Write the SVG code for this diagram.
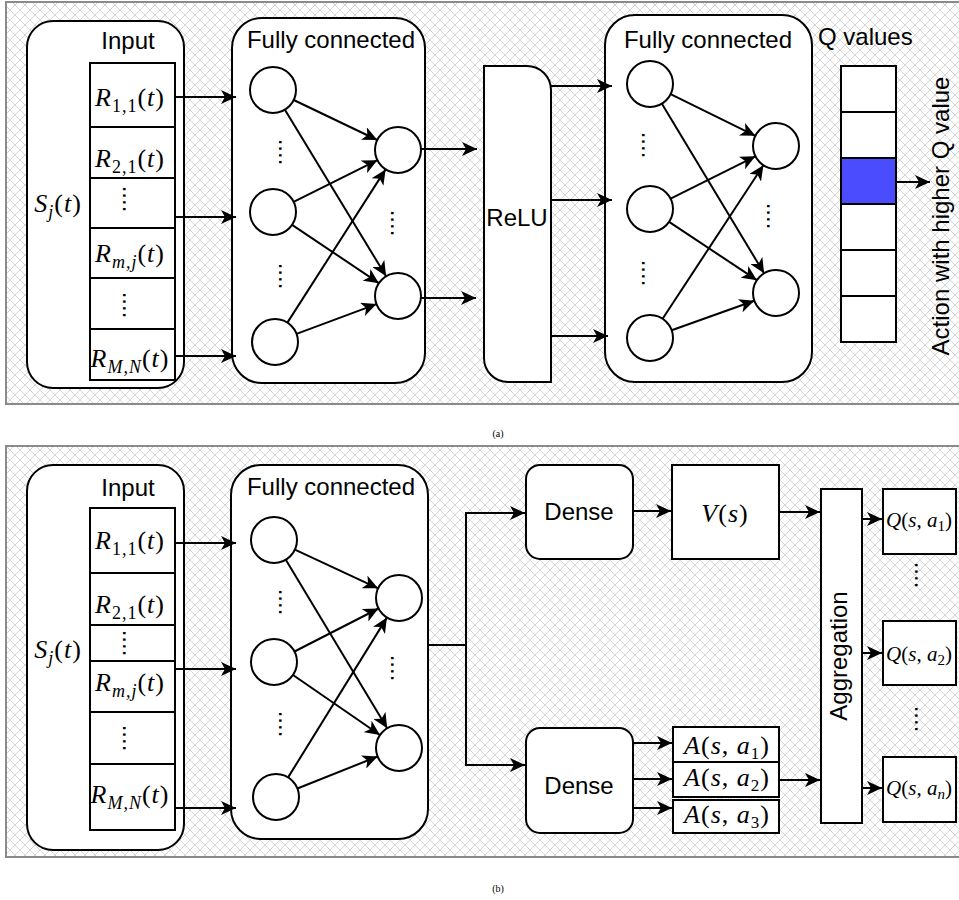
<svg xmlns="http://www.w3.org/2000/svg" width="959" height="900" viewBox="0 0 959 900">
<defs>
<pattern id="hatch" patternUnits="userSpaceOnUse" width="10" height="10">
<rect width="10" height="10" fill="#ffffff"/>
<path d="M0,0 L10,10 M10,0 L0,10" stroke="#d6d6d6" stroke-width="1"/>
</pattern>
<marker id="arr" markerUnits="userSpaceOnUse" markerWidth="16" markerHeight="14" refX="15" refY="7" orient="auto">
<path d="M0,0 L15,7 L0,14 L4,7 Z" fill="#000"/>
</marker>
</defs>
<style>
.panel{fill:url(#hatch);stroke:#8a8a8a;stroke-width:2}
.box{fill:#fff;stroke:#000;stroke-width:2}
.e{fill:none;stroke:#000;stroke-width:2;marker-end:url(#arr)}
.ln{fill:none;stroke:#000;stroke-width:2}
.t{font-family:"Liberation Sans",Arial,sans-serif;font-size:24px;fill:#000}
.m{font-family:"Liberation Serif","Times New Roman",serif;font-size:26px;fill:#000;letter-spacing:1px}
.q{font-family:"Liberation Serif","Times New Roman",serif;font-size:21px;fill:#000}
.i{font-style:italic}
.cap{font-family:"Liberation Serif","Times New Roman",serif;font-size:10px;fill:#000}
.dots{font-family:"Liberation Sans",Arial,sans-serif;font-size:24px;fill:#000}
</style>

<rect class="panel" x="6" y="2" width="960" height="402"/>
<rect class="panel" x="6" y="446" width="960" height="411"/>
<text class="cap" x="498" y="437" text-anchor="middle">(a)</text>
<text class="cap" x="498" y="892" text-anchor="middle">(b)</text>

<!-- ============ Panel (a) ============ -->
<g id="a-input">
<rect class="box" x="27" y="21" width="157" height="367" rx="26"/>
<text class="t" x="128" y="49" text-anchor="middle">Input</text>
<text class="m" x="58" y="212" text-anchor="middle"><tspan class="i">S</tspan><tspan class="i" font-size="18" dy="6">j</tspan><tspan dy="-6">(</tspan><tspan class="i">t</tspan>)</text>
<rect class="box" x="90" y="63" width="85" height="64"/>
<rect class="box" x="90" y="127" width="85" height="51"/>
<rect class="box" x="90" y="178" width="85" height="50"/>
<rect class="box" x="90" y="228" width="85" height="50"/>
<rect class="box" x="90" y="278" width="85" height="51"/>
<rect class="box" x="90" y="329" width="85" height="51"/>
<text class="m" x="130" y="106" text-anchor="middle"><tspan class="i">R</tspan><tspan font-size="18" dy="6">1,1</tspan><tspan dy="-6">(</tspan><tspan class="i">t</tspan>)</text>
<text class="m" x="130" y="167" text-anchor="middle"><tspan class="i">R</tspan><tspan font-size="18" dy="6">2,1</tspan><tspan dy="-6">(</tspan><tspan class="i">t</tspan>)</text>
<text class="dots" transform="translate(123,199) rotate(90)" text-anchor="middle">....</text>
<text class="m" x="130" y="262" text-anchor="middle"><tspan class="i">R</tspan><tspan class="i" font-size="18" dy="6">m,j</tspan><tspan dy="-6">(</tspan><tspan class="i">t</tspan>)</text>
<text class="dots" transform="translate(123,305) rotate(90)" text-anchor="middle">....</text>
<text class="m" x="130" y="367" text-anchor="middle"><tspan class="i">R</tspan><tspan class="i" font-size="18" dy="6">M,N</tspan><tspan dy="-6">(</tspan><tspan class="i">t</tspan>)</text>
</g>

<g id="a-fc1">
<rect class="box" x="232" y="18" width="193" height="365" rx="30"/>
<text class="t" x="331" y="48" text-anchor="middle">Fully connected</text>
<circle class="box" cx="273" cy="90" r="23"/>
<circle class="box" cx="273" cy="212" r="23"/>
<circle class="box" cx="275" cy="342" r="23"/>
<circle class="box" cx="398" cy="150" r="23"/>
<circle class="box" cx="398" cy="296" r="23"/>
<text class="dots" transform="translate(279,152) rotate(90)" text-anchor="middle">....</text>
<text class="dots" transform="translate(279,276) rotate(90)" text-anchor="middle">....</text>
<text class="dots" transform="translate(391,223) rotate(90)" text-anchor="middle">....</text>
</g>

<g id="a-relu">
<path class="box" d="M484,66 H527 A24,24 0 0 1 551,90 V382 H508 A24,24 0 0 1 484,358 Z"/>
<text class="t" x="517" y="226" text-anchor="middle">ReLU</text>
</g>

<g id="a-fc2">
<rect class="box" x="605" y="15" width="207" height="367" rx="30"/>
<text class="t" x="708" y="48" text-anchor="middle">Fully connected</text>
<circle class="box" cx="650" cy="84" r="23"/>
<circle class="box" cx="650" cy="209" r="23"/>
<circle class="box" cx="650" cy="338" r="23"/>
<circle class="box" cx="776" cy="146" r="23"/>
<circle class="box" cx="776" cy="293" r="23"/>
<text class="dots" transform="translate(642,145) rotate(90)" text-anchor="middle">....</text>
<text class="dots" transform="translate(642,273) rotate(90)" text-anchor="middle">....</text>
<text class="dots" transform="translate(767,216) rotate(90)" text-anchor="middle">....</text>
</g>

<g id="a-qvalues">
<text class="t" x="818" y="45">Q values</text>
<rect class="box" x="841" y="66" width="55" height="46"/>
<rect class="box" x="841" y="112" width="55" height="46"/>
<rect x="841" y="158" width="55" height="46" fill="#4c4cff" stroke="#000" stroke-width="2"/>
<rect class="box" x="841" y="204" width="55" height="46"/>
<rect class="box" x="841" y="250" width="55" height="46"/>
<rect class="box" x="841" y="296" width="55" height="46"/>
</g>

<g id="a-action">
<text class="t" transform="translate(949,216) rotate(-90)" text-anchor="middle">Action with higher Q value</text>
</g>

<g id="a-edges">
<line class="e" x1="175" y1="97" x2="236" y2="97"/>
<line class="e" x1="175" y1="217" x2="236" y2="217"/>
<line class="e" x1="175" y1="356" x2="236" y2="356"/>
<line class="e" x1="293.7" y1="100" x2="377.3" y2="140"/>
<line class="e" x1="284.9" y1="109.7" x2="386.1" y2="276.3"/>
<line class="e" x1="293.6" y1="201.8" x2="377.4" y2="160.2"/>
<line class="e" x1="292.1" y1="224.8" x2="378.9" y2="283.2"/>
<line class="e" x1="287.4" y1="322.6" x2="385.6" y2="169.4"/>
<line class="e" x1="296.5" y1="333.9" x2="376.5" y2="304.1"/>
<line class="e" x1="421" y1="149" x2="477" y2="149"/>
<line class="e" x1="421" y1="298" x2="476" y2="298"/>
<line class="e" x1="551" y1="86" x2="612" y2="86"/>
<line class="e" x1="551" y1="200" x2="612" y2="200"/>
<line class="e" x1="551" y1="336" x2="608" y2="336"/>
<line class="e" x1="670.6" y1="94.2" x2="755.4" y2="135.8"/>
<line class="e" x1="661.9" y1="103.7" x2="764.1" y2="273.3"/>
<line class="e" x1="670.6" y1="198.7" x2="755.4" y2="156.3"/>
<line class="e" x1="669.1" y1="221.8" x2="756.9" y2="280.2"/>
<line class="e" x1="662.6" y1="318.8" x2="763.4" y2="165.2"/>
<line class="e" x1="671.7" y1="330.3" x2="754.3" y2="300.7"/>
<line class="e" x1="896" y1="182" x2="930" y2="182"/>
</g>

<!-- ============ Panel (b) ============ -->
<g id="b-input">
<rect class="box" x="27" y="465" width="157" height="385" rx="26"/>
<text class="t" x="128" y="496" text-anchor="middle">Input</text>
<text class="m" x="58" y="658" text-anchor="middle"><tspan class="i">S</tspan><tspan class="i" font-size="18" dy="6">j</tspan><tspan dy="-6">(</tspan><tspan class="i">t</tspan>)</text>
<rect class="box" x="90" y="508" width="85" height="65"/>
<rect class="box" x="90" y="573" width="85" height="52"/>
<rect class="box" x="90" y="625" width="85" height="36"/>
<rect class="box" x="90" y="661" width="85" height="51"/>
<rect class="box" x="90" y="712" width="85" height="52"/>
<rect class="box" x="90" y="764" width="85" height="66"/>
<text class="m" x="130" y="549" text-anchor="middle"><tspan class="i">R</tspan><tspan font-size="18" dy="6">1,1</tspan><tspan dy="-6">(</tspan><tspan class="i">t</tspan>)</text>
<text class="m" x="130" y="613" text-anchor="middle"><tspan class="i">R</tspan><tspan font-size="18" dy="6">2,1</tspan><tspan dy="-6">(</tspan><tspan class="i">t</tspan>)</text>
<text class="dots" transform="translate(123,643) rotate(90)" text-anchor="middle">....</text>
<text class="m" x="130" y="691" text-anchor="middle"><tspan class="i">R</tspan><tspan class="i" font-size="18" dy="6">m,j</tspan><tspan dy="-6">(</tspan><tspan class="i">t</tspan>)</text>
<text class="dots" transform="translate(123,738) rotate(90)" text-anchor="middle">....</text>
<text class="m" x="130" y="803" text-anchor="middle"><tspan class="i">R</tspan><tspan class="i" font-size="18" dy="6">M,N</tspan><tspan dy="-6">(</tspan><tspan class="i">t</tspan>)</text>
</g>

<g id="b-fc">
<rect class="box" x="231" y="465" width="197" height="374" rx="30"/>
<text class="t" x="331" y="495" text-anchor="middle">Fully connected</text>
<circle class="box" cx="274" cy="540" r="23"/>
<circle class="box" cx="274" cy="662" r="23"/>
<circle class="box" cx="276" cy="797" r="23"/>
<circle class="box" cx="399" cy="598" r="23"/>
<circle class="box" cx="399" cy="748" r="23"/>
<text class="dots" transform="translate(279,602) rotate(90)" text-anchor="middle">....</text>
<text class="dots" transform="translate(279,724) rotate(90)" text-anchor="middle">....</text>
<text class="dots" transform="translate(391,668) rotate(90)" text-anchor="middle">....</text>
</g>

<g id="b-dense1">
<rect class="box" x="526" y="465" width="107" height="94" rx="14"/>
<text class="t" x="579" y="520" text-anchor="middle">Dense</text>
</g>
<g id="b-vs">
<rect class="box" x="672" y="465" width="107" height="94"/>
<text class="m" x="725" y="522" text-anchor="middle" font-size="32"><tspan class="i">V</tspan>(<tspan class="i">s</tspan>)</text>
</g>
<g id="b-dense2">
<rect class="box" x="526" y="728" width="107" height="105" rx="14"/>
<text class="t" x="579" y="794" text-anchor="middle">Dense</text>
</g>
<g id="b-advantage">
<rect class="box" x="673" y="727" width="106" height="35"/>
<rect class="box" x="673" y="762" width="106" height="35"/>
<rect class="box" x="673" y="800" width="106" height="33"/>
<text class="m" x="727" y="754" text-anchor="middle" font-size="24"><tspan class="i">A</tspan>(<tspan class="i">s</tspan>, <tspan class="i">a</tspan><tspan font-size="17" dy="5">1</tspan><tspan dy="-5">)</tspan></text>
<text class="m" x="727" y="786" text-anchor="middle" font-size="24"><tspan class="i">A</tspan>(<tspan class="i">s</tspan>, <tspan class="i">a</tspan><tspan font-size="17" dy="5">2</tspan><tspan dy="-5">)</tspan></text>
<text class="m" x="727" y="823" text-anchor="middle" font-size="24"><tspan class="i">A</tspan>(<tspan class="i">s</tspan>, <tspan class="i">a</tspan><tspan font-size="17" dy="5">3</tspan><tspan dy="-5">)</tspan></text>
</g>
<g id="b-aggregation">
<rect class="box" x="821" y="489" width="41" height="334"/>
<text class="t" transform="translate(847,656) rotate(-90)" text-anchor="middle">Aggregation</text>
</g>
<g id="b-q">
<rect class="box" x="883" y="489" width="73" height="65"/>
<rect class="box" x="883" y="621" width="73" height="64"/>
<rect class="box" x="883" y="757" width="73" height="65"/>
<text class="q" x="919" y="527" text-anchor="middle"><tspan class="i">Q</tspan>(<tspan class="i">s</tspan>, <tspan class="i">a</tspan><tspan font-size="15" dy="4">1</tspan><tspan dy="-4">)</tspan></text>
<text class="q" x="919" y="661" text-anchor="middle"><tspan class="i">Q</tspan>(<tspan class="i">s</tspan>, <tspan class="i">a</tspan><tspan font-size="15" dy="4">2</tspan><tspan dy="-4">)</tspan></text>
<text class="q" x="919" y="795" text-anchor="middle"><tspan class="i">Q</tspan>(<tspan class="i">s</tspan>, <tspan class="i">a</tspan><tspan class="i" font-size="15" dy="4">n</tspan><tspan dy="-4">)</tspan></text>
<text class="dots" transform="translate(915,575) rotate(90)" text-anchor="middle">....</text>
<text class="dots" transform="translate(915,719) rotate(90)" text-anchor="middle">....</text>
</g>

<g id="b-edges">
<line class="e" x1="175" y1="543" x2="236" y2="543"/>
<line class="e" x1="175" y1="669" x2="236" y2="669"/>
<line class="e" x1="175" y1="808" x2="236" y2="808"/>
<line class="e" x1="294.9" y1="549.7" x2="378.1" y2="588.3"/>
<line class="e" x1="285.8" y1="559.7" x2="387.2" y2="728.3"/>
<line class="e" x1="294.5" y1="651.5" x2="378.5" y2="608.5"/>
<line class="e" x1="293" y1="675" x2="380" y2="735"/>
<line class="e" x1="288.1" y1="777.4" x2="386.9" y2="617.6"/>
<line class="e" x1="297.4" y1="788.5" x2="377.6" y2="756.5"/>
<polyline class="ln" points="428,645 466,645"/>
<polyline class="e" points="466,645 466,513 525,513"/>
<polyline class="e" points="466,645 466,765 525,765"/>
<line class="e" x1="633" y1="511" x2="671" y2="511"/>
<line class="e" x1="779" y1="512" x2="820" y2="512"/>
<line class="e" x1="633" y1="743" x2="672" y2="743"/>
<line class="e" x1="633" y1="779" x2="672" y2="779"/>
<line class="e" x1="633" y1="808" x2="672" y2="808"/>
<line class="e" x1="779" y1="780" x2="820" y2="780"/>
<line class="e" x1="862" y1="519" x2="882" y2="519"/>
<line class="e" x1="862" y1="653" x2="882" y2="653"/>
<line class="e" x1="862" y1="788" x2="882" y2="788"/>
</g>
</svg>
